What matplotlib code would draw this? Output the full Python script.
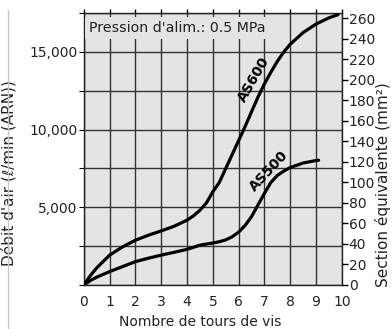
import numpy as np
import matplotlib.pyplot as plt
from matplotlib.lines import Line2D

# tours de vis -> débit (l/min ANR)
as600_x = [0, 0.25, 0.5, 1, 1.5, 2, 2.5, 3, 3.5, 4, 4.25, 4.5, 4.75, 5, 5.25, 5.5,
           5.75, 6, 6.25, 6.5, 6.75, 7, 7.25, 7.5, 7.75, 8, 8.5, 9, 9.5, 9.85]
as600_y = [0, 600, 1100, 1920, 2450, 2880, 3200, 3480, 3780, 4170, 4450, 4810, 5280,
           6000, 6600, 7500, 8400, 9300, 10200, 11150, 12100, 12950, 13700, 14400,
           15000, 15500, 16250, 16800, 17200, 17400]

as500_x = [0, 0.25, 0.5, 1, 1.5, 2, 2.5, 3, 3.5, 4, 4.5, 5, 5.25, 5.5, 5.75, 6,
           6.25, 6.5, 6.75, 7, 7.25, 7.5, 7.75, 8, 8.5, 9, 9.1]
as500_y = [0, 280, 500, 860, 1180, 1500, 1720, 1920, 2100, 2290, 2560, 2700, 2780,
           2900, 3100, 3400, 3830, 4400, 5150, 5900, 6600, 7050, 7330, 7560, 7850,
           8010, 8030]

x_ticks = list(range(0, 11))
flow_ticks = list(range(0, 17501, 2500))
flow_labels = ["", "", "5,000", "", "10,000", "", "15,000", ""]
section_ticks = list(range(0, 261, 20))

plt.rcParams['font.family'] = ['DejaVu Sans']

fig = plt.figure(figsize=(3.92, 3.29), dpi=100)
ax = fig.add_axes([0.214, 0.134, 0.658, 0.826])
ax.set_facecolor("#e4e4e4")

ax.plot(as600_x, as600_y, color="black", lw=2.3, solid_capstyle="round", zorder=4)
ax.plot(as500_x, as500_y, color="black", lw=2.3, solid_capstyle="round", zorder=4)

ax.set_xlim(0, 10)
ax.set_ylim(0, 17500)
ax.set_xticks(x_ticks)
ax.set_yticks(flow_ticks)
ax.set_yticklabels(flow_labels)
ax.grid(True, color="#333333", lw=1.0, zorder=1)
ax.set_axisbelow(True)
ax.tick_params(axis="x", bottom=False, top=True, direction="out", length=3,
               width=1, labelsize=10, pad=4, labelcolor="#222222")
ax.tick_params(axis="y", left=False, labelsize=10, pad=1, labelcolor="#222222")
for s in ax.spines.values():
    s.set_color("#222222")
    s.set_linewidth(1.0)

ax.text(0.2, 16550, "Pression d'alim.: 0.5 MPa", fontsize=10.2, va="center", ha="left",
        color="#222222", bbox=dict(facecolor="#e4e4e4", edgecolor="none", pad=3), zorder=3)
ax.text(6.59, 13200, "AS600", fontsize=10, fontweight="bold", rotation=60,
        ha="center", va="center", zorder=5)
ax.text(7.17, 7300, "AS500", fontsize=10, fontweight="bold", rotation=47,
        ha="center", va="center", zorder=5)

ax.set_xlabel("Nombre de tours de vis", fontsize=10, color="#222222")
ax.xaxis.set_label_coords(0.45, -0.11)
ax.set_ylabel("Débit d'air (ℓ/min (ARN))", fontsize=11, color="#222222")
ax.yaxis.set_label_coords(-0.26, 0.41)

ax2 = ax.twinx()
ax2.set_ylim(0, 265)
ax2.set_yticks(section_ticks)
ax2.tick_params(axis="y", direction="out", length=4, width=1, labelsize=10, pad=1,
                labelcolor="#222222")
ax2.set_ylabel("Section équivalente (mm²)", fontsize=11, rotation=90, color="#222222")
ax2.yaxis.set_label_coords(1.13, 0.368)
for s in ax2.spines.values():
    s.set_visible(False)

fig.add_artist(Line2D([0.02, 0.02], [0.0, 0.97], transform=fig.transFigure,
                      color="#c8c8c8", lw=1))

fig.savefig("out.png", dpi=100)
